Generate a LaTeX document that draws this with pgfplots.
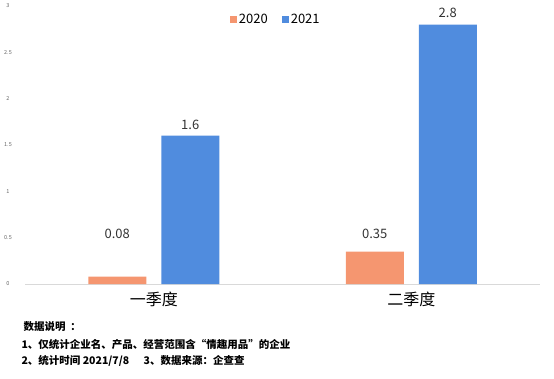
\documentclass[border=0pt]{standalone}
\usepackage{pgfplots}
\pgfplotsset{compat=1.18}
\usepackage{fontspec}
\setmainfont{Noto Sans CJK SC}
\definecolor{orn}{RGB}{245,150,112}
\definecolor{blu}{RGB}{80,140,222}
\begin{document}
\begin{tikzpicture}
\useasboundingbox (0,0) rectangle (554pt,378pt);
\begin{axis}[
  at={(25pt,94pt)}, anchor=south west,
  scale only axis, width=515pt, height=278pt,
  xmin=-0.5, xmax=1.5, ymin=0, ymax=3,
  /pgf/number format/assume math mode=true,
  ytick={0,0.5,...,3},
  yticklabels={0,0.5,1,1.5,2,2.5,3},
  xtick={0,1}, xticklabels={一季度,二季度},
  xticklabel style={font=\fontsize{16}{18}\selectfont, yshift=-4pt},
  yticklabel style={font=\fontsize{5.5}{6}\selectfont, text=black!60, anchor=center, xshift=-17pt},
  major tick length=0pt,
  axis line style={draw=none},
  axis x line*=bottom,
  extra y ticks={0}, extra y tick labels={},
  extra y tick style={grid=major, major grid style={draw=black!15, line width=0.8pt}},
  ybar, bar width=58pt,
  legend style={at={(0.487,0.953)}, anchor=center, draw=none, legend columns=2,
     font=\fontsize{13}{15}\selectfont, /tikz/every even column/.append style={column sep=12pt}},
  legend image code/.code={\fill[#1] (0pt,-3.5pt) rectangle (7pt,3.5pt);},
  nodes near coords style={font=\fontsize{13}{15}\selectfont, text=black!80},
]
\addplot[fill=orn, draw=none, bar shift=-36.5pt] coordinates {(0,0.08) (1,0.35)};
\addlegendentry{2020}
\addplot[fill=blu, draw=none, bar shift=36.5pt, nodes near coords, point meta=explicit symbolic, nodes near coords style={yshift=3pt}] coordinates {(0,1.6)[1.6] (1,2.8)[2.8]};
\addlegendentry{2021}
\addplot[draw=none, fill=none, bar shift=-36.5pt, forget plot, nodes near coords, point meta=explicit symbolic] coordinates {(0,0.45)[0.08] (1,0.45)[0.35]};
\end{axis}
\node[anchor=west, font=\fontsize{10.5}{12}\bfseries] at (20pt,51pt) {数据说明 \ ：};
\node[anchor=west, font=\fontsize{10.5}{12}\bfseries] at (18pt,33pt) {1、仅统计企业名、产品、经营范围含“情趣用品”的企业};
\node[anchor=west, font=\fontsize{10.5}{12}\bfseries] at (18pt,17pt) {2、统计时间 2021/7/8 \ \ \ \ \ 3、数据来源：企查查};
\end{tikzpicture}
\end{document}
